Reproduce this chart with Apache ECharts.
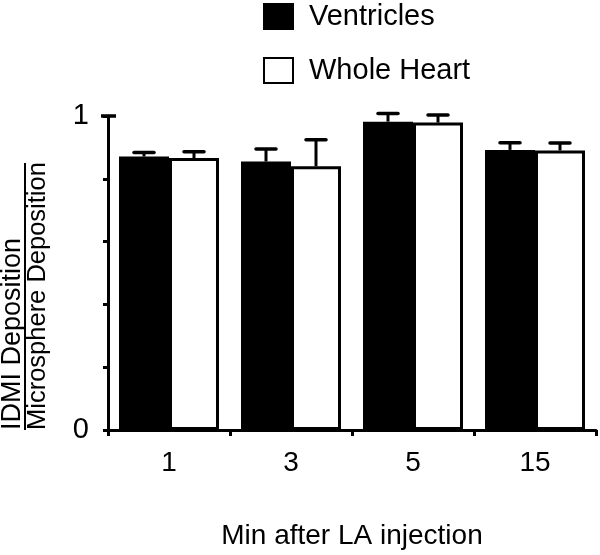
<!DOCTYPE html>
<html><head><meta charset="utf-8">
<script src="https://cdn.jsdelivr.net/npm/echarts@6/dist/echarts.min.js"></script>
<style>html,body{margin:0;padding:0;background:#fff}#c{width:600px;height:555px}</style>
</head><body><div id="c"></div>
<script>
const categories = ['1', '3', '5', '15'];
const ventricles = [0.871, 0.855, 0.982, 0.892];
const ventriclesErr = [0.013, 0.040, 0.026, 0.023];
const wholeHeart = [0.866, 0.840, 0.979, 0.890];
const wholeHeartErr = [0.020, 0.084, 0.024, 0.024];
const yTickLabels = {0: '0', 1: '1'};

const FONT = 'Liberation Sans';
const chart = echarts.init(document.getElementById('c'));

function errSeries(vals, errs, side) {
  return {
    type: 'custom',
    clip: false,
    z: 5,
    data: vals.map((v, i) => [i, v, v + errs[i]]),
    renderItem: function (params, api) {
      const base = api.coord([api.value(0), api.value(1)]);
      const top = api.coord([api.value(0), api.value(2)]);
      const x = base[0] + side * 25;
      return {
        type: 'group',
        children: [
          {type: 'line', shape: {x1: x, y1: base[1], x2: x, y2: top[1]}, style: {stroke: '#000', lineWidth: 3}},
          {type: 'line', shape: {x1: x - 10, y1: top[1], x2: x + 10, y2: top[1]}, style: {stroke: '#000', lineWidth: 3.5, lineCap: 'round'}}
        ]
      };
    }
  };
}

chart.setOption({
  animation: false,
  textStyle: {fontFamily: FONT},
  grid: {left: 108, right: 4, top: 116, bottom: 123},
  legend: {
    orient: 'vertical', left: 263, top: 2, padding: 0, itemWidth: 29, itemHeight: 25, itemGap: 25,
    icon: 'rect',
    textStyle: {fontSize: 29, fontFamily: FONT, color: '#000', padding: [0, 0, 0, 11]},
    data: ['Ventricles', 'Whole Heart']
  },
  xAxis: {
    type: 'category', data: categories,
    axisLine: {lineStyle: {color: '#000', width: 3}},
    axisTick: {show: true, length: 6, lineStyle: {color: '#000', width: 3}},
    axisLabel: {fontSize: 28, color: '#000', margin: 19, fontFamily: FONT},
    name: 'Min after LA injection', nameLocation: 'middle', nameGap: 92,
    nameTextStyle: {fontSize: 28, color: '#000', fontFamily: FONT}
  },
  yAxis: {
    type: 'value', min: 0, max: 1, interval: 0.2,
    splitLine: {show: false},
    axisLine: {show: true, lineStyle: {color: '#000', width: 3}},
    axisTick: {show: true, length: 5, lineStyle: {color: '#000', width: 3}},
    axisLabel: {fontSize: 29, color: '#000', margin: 19, fontFamily: FONT,
      formatter: v => (yTickLabels[v] !== undefined ? yTickLabels[v] : '')}
  },
  graphic: [
    {type: 'line', shape: {x1: 101, y1: 116, x2: 116, y2: 116}, style: {stroke: '#000', lineWidth: 3.5}},
    {type: 'text', x: 13, y: 430, rotation: Math.PI / 2,
      style: {text: 'IDMI Deposition', fontSize: 27, fontFamily: FONT, fill: '#000', align: 'left', verticalAlign: 'middle'}},
    {type: 'line', shape: {x1: 25, y1: 163, x2: 25, y2: 430}, style: {stroke: '#000', lineWidth: 2}},
    {type: 'text', x: 38, y: 430, rotation: Math.PI / 2,
      style: {text: 'Microsphere Deposition', fontSize: 25.5, fontFamily: FONT, fill: '#000', align: 'left', verticalAlign: 'middle'}}
  ],
  series: [
    {name: 'Ventricles', type: 'bar', data: ventricles, barWidth: 50, barGap: '0%',
      itemStyle: {color: '#000', borderColor: '#000', borderWidth: 3}},
    {name: 'Whole Heart', type: 'bar', data: wholeHeart, barWidth: 50,
      itemStyle: {color: '#fff', borderColor: '#000', borderWidth: 3}},
    errSeries(ventricles, ventriclesErr, -1),
    errSeries(wholeHeart, wholeHeartErr, 1)
  ]
});
</script></body></html>
